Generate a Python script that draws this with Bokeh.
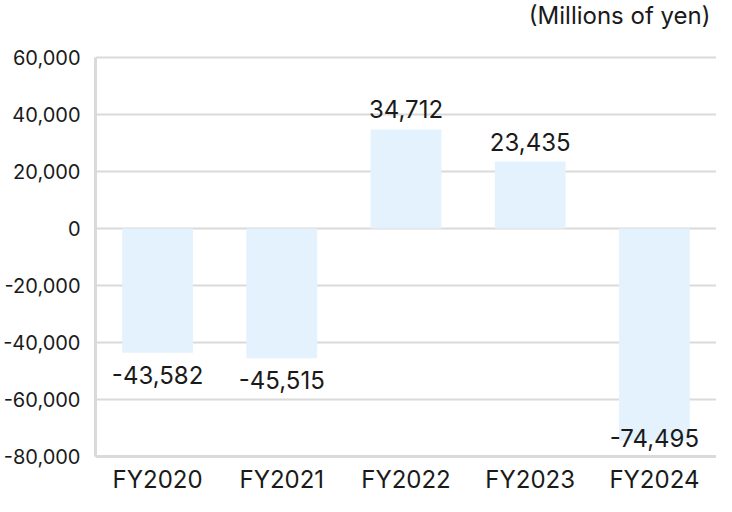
from bokeh.plotting import figure
from bokeh.models import FactorRange, FixedTicker, NumeralTickFormatter, ColumnDataSource, Range1d, Label
from bokeh.embed import file_html
from bokeh.resources import INLINE
from bokeh.core.properties import value

categories = ["FY2020", "FY2021", "FY2022", "FY2023", "FY2024"]
values = [-43582, -45515, 34712, 23435, -74495]
y_ticks = [-80000, -60000, -40000, -20000, 0, 20000, 40000, 60000]
unit_label = "(Millions of yen)"

YMIN, YMAX = -80000, 60000
FONT = "Inter"
TEXT_COLOR = "#1a1a1a"
GRID_COLOR = "#dadada"
BAR_COLOR = "#e4f2fd"

W, H = 716, 496
BORDER_L, BORDER_R, BORDER_T, BORDER_B = 87, 0, 0, 39
TOP_PX = 57                      # free space above the 60,000 line
FRAME_H = H - BORDER_T - BORDER_B
ppu = (FRAME_H - TOP_PX) / (YMAX - YMIN)
y_end = YMAX + TOP_PX / ppu

label_text, label_y, label_base, label_off = [], [], [], []
for v in values:
    label_text.append(f"{v:,}")
    if v >= 0:
        label_y.append(v); label_base.append("bottom"); label_off.append(-11)
    else:
        room = (v - YMIN) * ppu
        if room < 40:
            label_y.append(YMIN); label_base.append("bottom"); label_off.append(-10)
        else:
            label_y.append(v); label_base.append("top"); label_off.append(13)

src = ColumnDataSource(dict(cat=categories, val=values))
lsrc = ColumnDataSource(dict(cat=categories, y=label_y, text=label_text,
                             base=label_base, off=label_off))

p = figure(x_range=FactorRange(*categories, range_padding=0),
           y_range=Range1d(YMIN, y_end),
           width=W, height=H, output_backend="svg", toolbar_location=None,
           min_border_left=BORDER_L, min_border_right=BORDER_R,
           min_border_top=BORDER_T, min_border_bottom=BORDER_B)

p.vbar(x="cat", top="val", bottom=0, width=0.57, source=src,
       fill_color=BAR_COLOR, line_color=None)

p.text(x="cat", y="y", text="text", source=lsrc, text_align="center",
       text_baseline="base", y_offset="off",
       text_font=value(FONT), text_font_size="24px", text_color=TEXT_COLOR)

p.outline_line_color = None
p.xgrid.grid_line_color = None
p.ygrid.grid_line_color = GRID_COLOR
p.ygrid.grid_line_width = 2
p.ygrid.ticker = FixedTicker(ticks=y_ticks)

p.yaxis.ticker = FixedTicker(ticks=y_ticks)
p.yaxis.bounds = (YMIN, YMAX)
p.yaxis.formatter = NumeralTickFormatter(format="0,0")
for ax in (p.xaxis, p.yaxis):
    ax.axis_line_color = GRID_COLOR
    ax.axis_line_width = 3
    ax.major_tick_line_color = None
    ax.minor_tick_line_color = None
    ax.major_label_text_font = FONT
    ax.major_label_text_color = TEXT_COLOR
p.yaxis.major_label_text_font_size = "20px"
p.yaxis.major_label_standoff = 9
p.xaxis.major_label_text_font_size = "24px"
p.xaxis.major_label_standoff = 2

# right end of the categorical range, in its synthetic data coordinates
p.add_layout(Label(x=len(categories), y=YMAX, x_units="data", y_units="data",
                   x_offset=-6, y_offset=42, text=unit_label, text_align="right",
                   text_baseline="middle", text_font=FONT,
                   text_font_size="24px", text_color=TEXT_COLOR))

open("out.html", "w").write(file_html(p, INLINE))
